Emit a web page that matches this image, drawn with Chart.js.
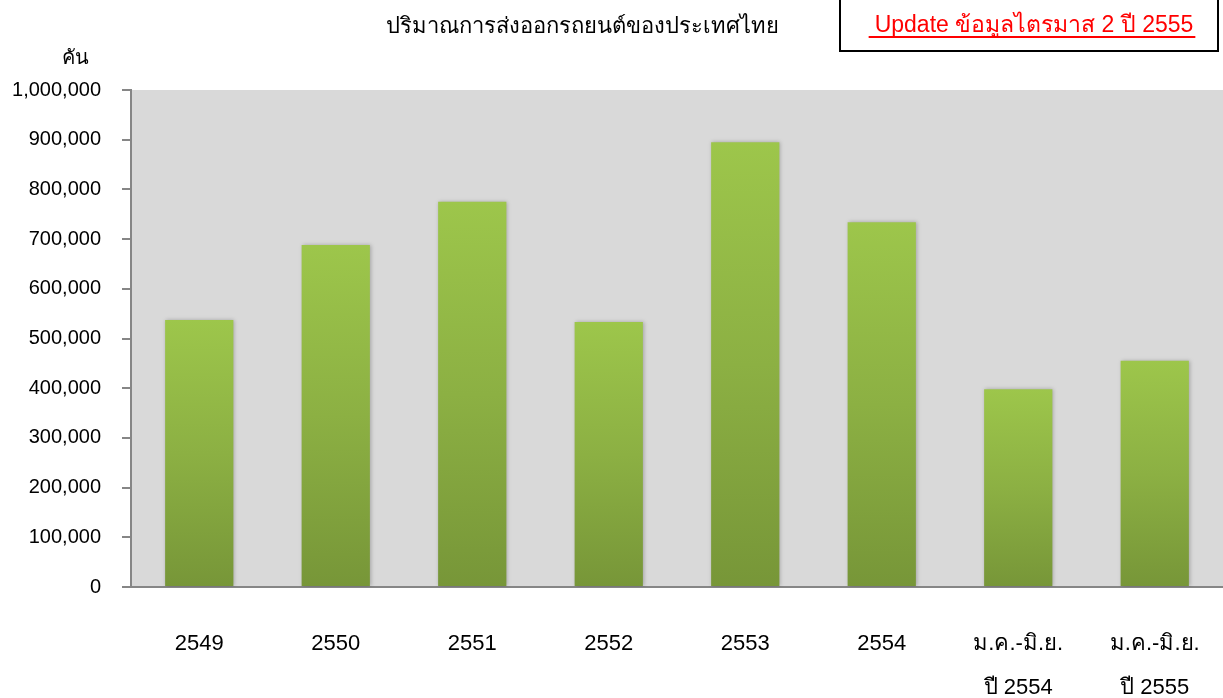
<!DOCTYPE html>
<html>
<head>
<meta charset="utf-8">
<script src="https://cdn.jsdelivr.net/npm/chart.js@4.4.1/dist/chart.umd.min.js"></script>
<style>
  html, body { margin: 0; padding: 0; background: #fff; overflow: hidden; }
  #wrap { position: relative; width: 1223px; height: 698px; }
  canvas { display: block; }
</style>
</head>
<body>
<div id="wrap"><canvas id="exportChart"></canvas></div>
<script>
// Data
const categories = ['2549', '2550', '2551', '2552', '2553', '2554', ['ม.ค.-มิ.ย.', 'ปี 2554'], ['ม.ค.-มิ.ย.', 'ปี 2555']];
const exportUnits = [537000, 688000, 775000, 533000, 895000, 734000, 398000, 455000];
const titleText = 'ปริมาณการส่งออกรถยนต์ของประเทศไทย';
const noteText = 'Update ข้อมูลไตรมาส 2 ปี 2555';
const unitText = 'คัน';

const FONT = '"Liberation Sans", Arial, "Noto Sans", sans-serif';

// gradient per bar, light on top, darker at the base
function barGradient(ctx) {
    const chart = ctx.chart;
    if (!chart.chartArea || ctx.raw === undefined) return '#8db043';
    const y = chart.scales.y;
    const top = y.getPixelForValue(ctx.raw);
    const base = y.getPixelForValue(0);
    const g = chart.ctx.createLinearGradient(0, top, 0, base);
    g.addColorStop(0, '#9dc64b');
    g.addColorStop(0.5, '#8cb043');
    g.addColorStop(1, '#779638');
    return g;
}

const decorations = {
    id: 'decorations',
    beforeDraw(chart) {
        const { ctx, chartArea } = chart;
        ctx.save();
        ctx.fillStyle = '#d9d9d9';
        ctx.fillRect(chartArea.left, chartArea.top, chartArea.right - chartArea.left, chartArea.bottom - chartArea.top);
        ctx.restore();
    },
    beforeDatasetsDraw(chart) {
        const ctx = chart.ctx;
        ctx.save();
        ctx.shadowColor = 'rgba(0,0,0,0.25)';
        ctx.shadowBlur = 4;
        ctx.shadowOffsetX = 1;
    },
    afterDatasetsDraw(chart) {
        chart.ctx.restore();
    },
    afterDraw(chart) {
        const ctx = chart.ctx;
        ctx.save();
        ctx.fillStyle = '#000';
        ctx.textAlign = 'center';
        ctx.textBaseline = 'alphabetic';
        ctx.font = '22px ' + FONT;
        ctx.fillText(titleText, 582, 33);
        ctx.font = '20px ' + FONT;
        ctx.fillText(unitText, 75, 64);

        // note box top right
        ctx.strokeStyle = '#000';
        ctx.lineWidth = 2;
        ctx.strokeRect(840, -2, 378, 53);
        ctx.fillStyle = '#ff0000';
        ctx.font = '23px ' + FONT;
        ctx.fillText(noteText, 1034, 32);
        const w = ctx.measureText(noteText).width;
        ctx.fillRect(1034 - w / 2 - 6, 36, w + 8, 2);
        ctx.restore();
    }
};

new Chart(document.getElementById('exportChart'), {
    type: 'bar',
    data: {
        labels: categories,
        datasets: [{
            data: exportUnits,
            backgroundColor: barGradient,
            borderWidth: 0,
            categoryPercentage: 1,
            barPercentage: 0.5
        }]
    },
    options: {
        responsive: true,
        maintainAspectRatio: false,
        animation: false,
        layout: { padding: { top: 90, right: 0, left: 0, bottom: 0 } },
        plugins: {
            legend: { display: false },
            tooltip: { enabled: false }
        },
        scales: {
            x: {
                grid: { display: false },
                border: { display: true, color: '#868686', width: 2 },
                ticks: {
                    color: '#000',
                    padding: 27,
                    maxRotation: 0,
                    font: { family: FONT, size: 22, lineHeight: 2.0 }
                },
                afterFit(scale) {
                    scale.height = 111;
                    scale.paddingLeft = 0;
                    scale.paddingRight = 0;
                }
            },
            y: {
                min: 0,
                max: 1000000,
                grid: { drawOnChartArea: false, drawTicks: true, tickLength: 9, color: '#868686', lineWidth: 2 },
                border: { display: true, color: '#868686', width: 2 },
                ticks: {
                    stepSize: 100000,
                    color: '#000',
                    padding: 21,
                    font: { family: FONT, size: 20 },
                    callback: v => v.toLocaleString('en-US')
                },
                afterFit(scale) { scale.width = 131; }
            }
        }
    },
    plugins: [decorations]
});
</script>
</body>
</html>
